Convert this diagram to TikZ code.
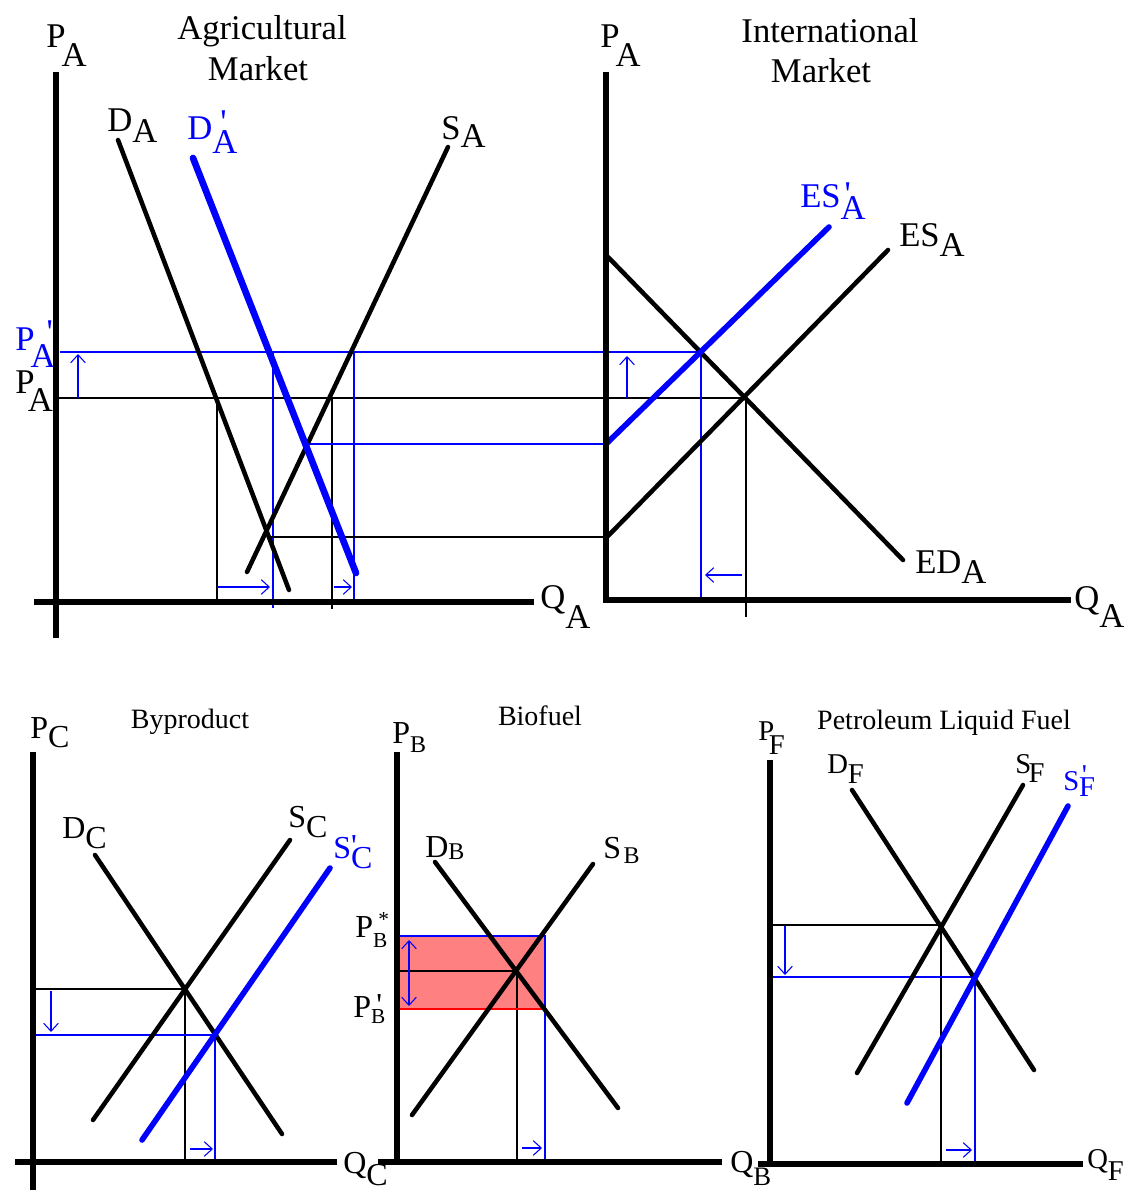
\documentclass[tikz,border=0pt]{standalone}
\usepackage{fontspec}
\setmainfont{Liberation Serif}
\usetikzlibrary{arrows.meta}
\definecolor{pblue}{RGB}{0,0,255}
\definecolor{pred}{RGB}{255,0,0}
\definecolor{pfill}{RGB}{255,128,128}
\newcommand\lw[2]{\raisebox{-#1pt}{#2}}
\newcommand\pr[2]{\rlap{\kern#1pt\raisebox{#2pt}{\textquotesingle}}}
\begin{document}
\begin{tikzpicture}[x=0.75pt,y=-0.75pt,
  axis/.style={line width=3.9pt},
  curve/.style={line width=3.4pt, line cap=round},
  bcurve/.style={line width=4.2pt, pblue, line cap=round},
  thinb/.style={line width=0.9pt},
  thinbl/.style={line width=0.9pt, pblue},
  barrow/.style={line width=0.8pt, pblue, -{Straight Barb[length=6pt,width=11pt]}},
  dbarrow/.style={line width=0.8pt, pblue, {Straight Barb[length=6pt,width=11pt]}-{Straight Barb[length=6pt,width=11pt]}},
  bigl/.style={font=\fontsize{26}{30}\selectfont, inner sep=0pt, anchor=base west},
  bigt/.style={font=\fontsize{26}{30}\selectfont, inner sep=0pt, anchor=base},
  midl/.style={font=\fontsize{24}{28}\selectfont, inner sep=0pt, anchor=base west},
  petl/.style={font=\fontsize{21.5}{26}\selectfont, inner sep=0pt, anchor=base west},
  ttl/.style={font=\fontsize{21}{25}\selectfont, inner sep=0pt, anchor=base},
]
\useasboundingbox[fill=white] (0,0) rectangle (1134,1191);

% ===================== Agricultural market =====================
\node[bigt] (agt1) at (262,40) {Agricultural};
\node[bigt] (agt2) at (258,81) {Market};
\node[bigl] (agpa) at (46,48) {P\kern-3pt\lw{14}{A}};
\node[bigl] (agqa) at (540,608) {Q\lw{15}{A}};
\node[bigl] (agda) at (107,132) {D\lw{8}{A}};
\node[bigl, text=pblue] (agdpa) at (187,140) {D\pr{6}{5}\lw{10}{A}};
\node[bigl] (agsa) at (441,140) {S\lw{6}{A}};
\node[bigl, text=pblue] (agppa) at (15,350) {P\kern-3pt\pr{12}{5}\lw{13}{A}};
\node[bigl] (agpa0) at (15,393) {P\kern-5pt\lw{14}{A}};

\draw[thinbl] (60,352) -- (701,352);
\draw[thinb] (56,398) -- (747,398);
\draw[barrow] (78,398) -- (78,354);
\draw[thinb] (217,398) -- (217,602);
\draw[thinbl] (273,352) -- (273,608);
\draw[thinb] (332,398) -- (332,609);
\draw[thinbl] (354,352) -- (354,603);
\draw[thinbl] (307,444) -- (606,444);
\draw[thinb] (270,537) -- (606,537);
\draw[barrow] (217,587) -- (270,587);
\draw[barrow] (334,587) -- (352,587);

\draw[curve] (118,140) -- (289,590);
\draw[curve] (448,147) -- (247,572);
\draw[bcurve, line width=5pt] (193,158) -- (356,573);

\draw[axis] (56,72) -- (56,638);
\draw[axis] (34,602) -- (534,602);

% ===================== International market =====================
\node[bigt] (int1) at (830,43) {International};
\node[bigt] (int2) at (821,83) {Market};
\node[bigl] (inpa) at (600,48) {P\kern-3pt\lw{14}{A}};
\node[bigl, text=pblue] (inesp) at (800,208) {ES\pr{3}{1.5}\lw{9}{A}};
\node[bigl] (ines) at (899,247) {ES\lw{7.5}{A}};
\node[bigl] (ined) at (915,573) {ED\lw{7.5}{A}};
\node[bigl] (inqa) at (1074,609) {Q\lw{14}{A}};

\draw[thinbl] (701,352) -- (701,600);
\draw[thinb] (746,398) -- (746,617);
\draw[barrow] (627,398) -- (627,356);
\draw[barrow] (742,575) -- (705,575);

\draw[curve] (608,257) -- (903,560);
\draw[curve] (607,537) -- (888,250);
\draw[bcurve] (606,444) -- (829,227);

\draw[axis] (606,72) -- (606,603);
\draw[axis] (604,600) -- (1071,600);

% ===================== Byproduct =====================
\node[ttl] (byt) at (190,728) {Byproduct};
\node[midl] (bypc) at (30,738) {P\lw{7}{C}};
\node[midl] (bydc) at (62,838) {D\lw{7.5}{C}};
\node[midl] (bysc) at (288,827) {S\lw{7.5}{C}};
\node[midl, text=pblue] (byspc) at (333,858) {S\pr{0}{1}\lw{7.5}{C}};
\node[midl] (byqc) at (343,1173) {Q\lw{9}{C}};

\draw[thinb] (33,989) -- (185,989) -- (185,1162);
\draw[thinbl] (33,1035) -- (215,1035) -- (215,1162);
\draw[barrow] (51,991) -- (51,1032);
\draw[barrow] (190,1149) -- (213,1149);

\draw[curve] (95,855) -- (282,1134);
\draw[curve] (290,840) -- (93,1120);
\draw[bcurve] (330,868) -- (142,1140);

\draw[axis] (33,752) -- (33,1190);
\draw[axis] (15,1162) -- (337,1162);

% ===================== Biofuel =====================
\node[ttl] (bft) at (540,725) {Biofuel};
\node[midl] (bfpb) at (392,743) {P\lw{7}{\fontsize{18}{18}\selectfont B}};
\node[midl] (bfdb) at (425,857) {D\lw{2}{\fontsize{18}{18}\selectfont B}};
\node[midl] (bfsb) at (603,858) {S\kern2pt\lw{4}{\fontsize{18}{18}\selectfont B}};
\node[midl] (bfpsb) at (355,937) {P\rlap{\kern4pt\raisebox{8pt}{\fontsize{16}{16}\selectfont *}}\lw{7.5}{\fontsize{16}{16}\selectfont B}};
\node[midl] (bfppb) at (353,1017) {P\pr{4}{1}\lw{4.5}{\fontsize{16}{16}\selectfont B}};
\node[midl] (bfqb) at (730,1172) {Q\lw{10}{\fontsize{20}{20}\selectfont B}};

\fill[pfill] (398,936) rectangle (545,1009);
\draw[thinb] (398,971) -- (517,971) -- (517,1162);
\draw[thinbl] (398,936) -- (545,936) -- (545,1162);
\draw[line width=0.9pt, pred] (398,1009) -- (544,1009);
\draw[dbarrow] (409,940) -- (409,1006);
\draw[barrow] (522,1148) -- (542,1148);

\draw[curve] (435,862) -- (618,1108);
\draw[curve] (593,864) -- (412,1115);

\draw[axis] (397,752) -- (397,1162);
\draw[axis] (378,1162) -- (722,1162);

% ===================== Petroleum liquid fuel =====================
\node[ttl] (pft) at (944,729) {Petroleum Liquid Fuel};
\node[petl] (pfpf) at (758,740) {P\kern-4pt\lw{11}{F}};
\node[petl] (pfdf) at (827,773) {D\lw{7.5}{F}};
\node[petl] (pfsf) at (1015,773) {S\kern-2pt\lw{7}{F}};
\node[petl, text=pblue] (pfspf) at (1063,790) {S\pr{2}{4.5}\lw{5}{F}};
\node[petl] (pfqf) at (1087,1168) {Q\lw{9}{F}};

\draw[thinb] (770,925) -- (941,925) -- (941,1164);
\draw[thinbl] (768,977) -- (975,977) -- (975,1164);
\draw[barrow] (785,926) -- (785,975);
\draw[barrow] (946,1150) -- (972,1150);

\draw[curve] (852,790) -- (1034,1070);
\draw[curve] (1023,785) -- (857,1073);
\draw[bcurve] (1068,806) -- (907,1103);

\draw[axis] (770,760) -- (770,1164);
\draw[axis] (758,1164) -- (1083,1164);
\end{tikzpicture}
\end{document}
